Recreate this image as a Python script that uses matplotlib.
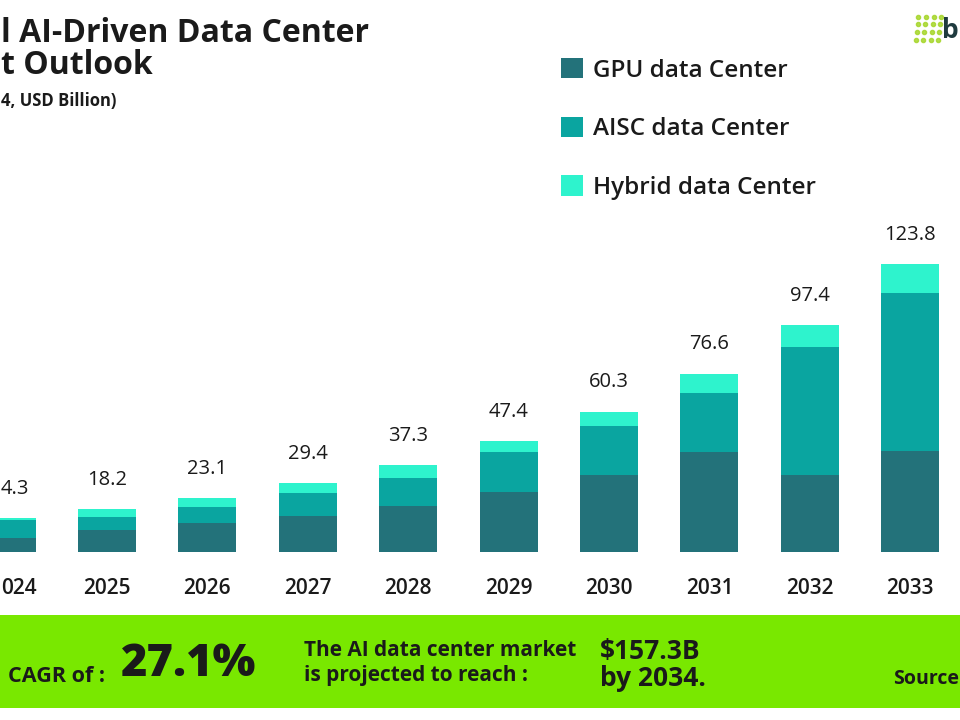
import matplotlib
matplotlib.use("Agg")
import matplotlib.pyplot as plt
from matplotlib.patches import Rectangle
import numpy as np

plt.rcParams['font.family'] = ['Open Sans', 'DejaVu Sans']

# ---- data ----
years = ["2024", "2025", "2026", "2027", "2028", "2029", "2030", "2031", "2032", "2033"]
gpu = [6.0, 9.4, 12.2, 15.4, 19.7, 25.7, 33.0, 42.8, 33.1, 43.4]
aisc = [7.5, 5.4, 7.0, 9.8, 12.2, 17.1, 21.1, 25.3, 54.9, 67.8]
hybrid = [0.8, 3.4, 3.9, 4.2, 5.4, 4.6, 6.2, 8.5, 9.4, 12.6]
totals = ["14.3", "18.2", "23.1", "29.4", "37.3", "47.4", "60.3", "76.6", "97.4", "123.8"]
series_names = ["GPU data Center", "AISC data Center", "Hybrid data Center"]

title_lines = ["Global AI-Driven Data Center", "Market Outlook", "(2024-2034, USD Billion)"]
cagr_label = "CAGR of :"
cagr_value = "27.1%"
proj_text = ["The AI data center market", "is projected to reach :"]
proj_value = ["$157.3B", "by 2034."]
source_text = "Source"

C_GPU = "#23727a"
C_AISC = "#0aa5a0"
C_HYB = "#2ef3cd"
GREEN = "#79e800"
DARK = "#1a1a1a"

W, H = 960, 720
fig = plt.figure(figsize=(W / 100, H / 100), dpi=100)
fig.patch.set_facecolor("white")
renderer = fig.canvas.get_renderer()


def fy(px):
    return 1 - px / H


def keep_inside_left(t, tol=7):
    """The reference is cropped on the left: show only the part of a text
    that lies inside the picture, starting at the left edge."""
    bb = t.get_window_extent(renderer)
    if bb.x0 >= 0:
        return t
    ymid = (bb.y0 + bb.y1) / 2
    s = t.get_text()
    props = dict(fontsize=t.get_fontsize(), fontweight=t.get_fontweight(),
                 color=t.get_color())
    right = bb.x1
    t.set_visible(False)
    while s:
        s = s[1:]
        nt = fig.text(right / W, ymid / H, s, ha="right", va="center", **props)
        x0 = nt.get_window_extent(renderer).x0
        if x0 >= -tol:
            nt.remove()
            return fig.text(1 / W, ymid / H, s, ha="left", va="center", **props)
        nt.remove()
    return None


ax = fig.add_axes([0, 0, 1, 1])
ax.set_axis_off()
ax.patch.set_visible(False)

px_per_unit_x = 100.4
px_per_unit_y = 2.325
x0_px = 6.6
base_px = 551.7
ax.set_xlim(-x0_px / px_per_unit_x, (W - x0_px) / px_per_unit_x)
ax.set_ylim(-(H - base_px) / px_per_unit_y, base_px / px_per_unit_y)

x = np.arange(len(years))
g = np.array(gpu)
a = np.array(aisc)
h = np.array(hybrid)
bw = 0.578
b1 = ax.bar(x, g, bw, color=C_GPU, label=series_names[0])
b2 = ax.bar(x, a, bw, bottom=g, color=C_AISC, label=series_names[1])
b3 = ax.bar(x, h, bw, bottom=g + a, color=C_HYB, label=series_names[2])

tops = g + a + h
for xi, t, lab in zip(x, tops, totals):
    tt = ax.annotate(lab, (xi, t), xytext=(0, 21), textcoords="offset points",
                     ha="center", va="center", fontsize=14.5, color=DARK)
    keep_inside_left(tt)
for xi, yr in zip(x, years):
    tt = ax.annotate(yr, (xi, 0), xytext=(0, -26.5), textcoords="offset points",
                     ha="center", va="center", fontsize=15, fontweight="semibold",
                     color=DARK)
    keep_inside_left(tt)

# legend
leg = ax.legend(handles=[b1, b2, b3], loc="upper left",
                bbox_to_anchor=(561 / W, fy(58)), bbox_transform=fig.transFigure,
                frameon=False, fontsize=17.5, handlelength=0.92, handleheight=0.92,
                handletextpad=0.4, labelspacing=1.40, borderpad=0, borderaxespad=0)
for t in leg.get_texts():
    t.set_fontweight("semibold")
    t.set_color(DARK)

# title (cropped at the left in the reference)
t1 = fig.text(372 / W, fy(33), title_lines[0], ha="right", va="center",
              fontsize=23, fontweight="bold", color=DARK)
t2 = fig.text(153 / W, fy(66), title_lines[1], ha="right", va="center",
              fontsize=23, fontweight="bold", color=DARK)
t3 = fig.text(117 / W, fy(101), title_lines[2], ha="right", va="center",
              fontsize=12, fontweight="bold", color=DARK)
keep_inside_left(t1, tol=3)
keep_inside_left(t2, tol=3)
keep_inside_left(t3, tol=1)

# logo
lax = fig.add_axes([912 / W, fy(46), 34 / W, 34 / H])
lax.set_axis_off()
gx, gy = np.meshgrid(np.arange(4), np.arange(4))
lax.scatter(gx.ravel() + gy.ravel() * 0.12, gy.ravel(), s=9,
            color="#a6d62a", alpha=0.85)
lax.set_xlim(-0.5, 4.0)
lax.set_ylim(-0.8, 3.6)
fig.text(959 / W, fy(30), "b", ha="right", va="center", fontsize=19,
         fontweight="bold", color="#1f3b3f")

# green banner
fig.patches.append(Rectangle((0, fy(708)), 1, (708 - 615) / H, transform=fig.transFigure,
                             facecolor=GREEN, edgecolor="none", zorder=0))
fig.text(8 / W, fy(676), cagr_label, ha="left", va="center", fontsize=15.5,
         fontweight="bold", color=DARK)
fig.text(121 / W, fy(664), cagr_value, ha="left", va="center", fontsize=32.5,
         fontweight="heavy", color=DARK)
fig.text(304 / W, fy(650), proj_text[0], ha="left", va="center", fontsize=15,
         fontweight="bold", color=DARK)
fig.text(304 / W, fy(675), proj_text[1], ha="left", va="center", fontsize=15,
         fontweight="bold", color=DARK)
fig.text(600 / W, fy(651), proj_value[0], ha="left", va="center", fontsize=19,
         fontweight="bold", color=DARK)
fig.text(600 / W, fy(679), proj_value[1], ha="left", va="center", fontsize=19,
         fontweight="bold", color=DARK)
fig.text(959 / W, fy(679), source_text, ha="right", va="center", fontsize=14,
         fontweight="bold", color=DARK)

fig.savefig("out.png", dpi=100)
